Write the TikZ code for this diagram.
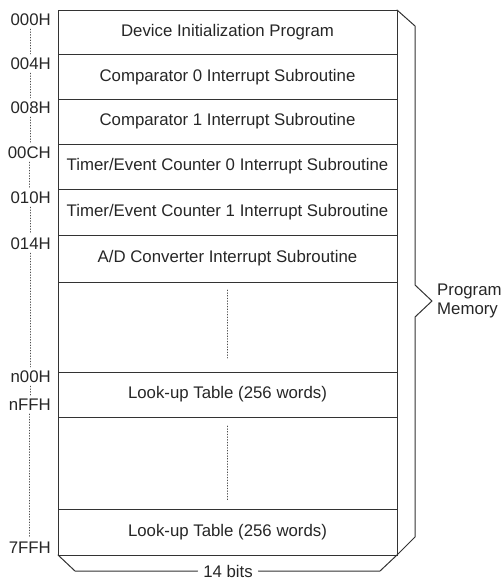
\documentclass[tikz,border=0pt]{standalone}
\usepackage{fontspec}
\setmainfont{Liberation Sans}
\usetikzlibrary{positioning}

\begin{document}
\begin{tikzpicture}[x=1pt,y=-1pt,font=\fontsize{16.8}{19}\selectfont,line cap=round,
  mem/.style={draw=black!80,line width=1pt,minimum width=339pt,outer sep=0pt,inner sep=0pt,text=black!85},
  addr/.style={anchor=east,inner sep=0pt,text=black!85},
  addrdots/.style={black!70,line width=0.7pt,dotted,shorten <=3pt,shorten >=4pt},
  middots/.style={black!70,line width=0.7pt,dotted},
  brace/.style={black!80,line width=1pt,line join=miter}]
\useasboundingbox (0,0) rectangle (501,581);
% program memory rows
\node[mem,minimum height=44.5pt,anchor=north west] (init) at (58,10) {Device Initialization Program};
\node[mem,minimum height=44.5pt,below=0pt of init] (cmp0) {Comparator 0 Interrupt Subroutine};
\node[mem,minimum height=45pt,below=0pt of cmp0] (cmp1) {Comparator 1 Interrupt Subroutine};
\node[mem,minimum height=45pt,below=0pt of cmp1] (tmr0) {Timer/Event Counter 0 Interrupt Subroutine};
\node[mem,minimum height=46pt,below=0pt of tmr0] (tmr1) {Timer/Event Counter 1 Interrupt Subroutine};
\node[mem,minimum height=47pt,below=0pt of tmr1] (adc) {A/D Converter Interrupt Subroutine};
\node[mem,minimum height=90pt,below=0pt of adc] (gap1) {};
\node[mem,minimum height=45pt,below=0pt of gap1] (lut1) {Look-up Table (256 words)};
\node[mem,minimum height=92pt,below=0pt of lut1] (gap2) {};
\node[mem,minimum height=46pt,below=0pt of gap2] (lut2) {Look-up Table (256 words)};
\draw[middots,shorten <=8pt,shorten >=14pt] (gap1.north) -- (gap1.south);
\draw[middots,shorten <=9pt,shorten >=8pt] (gap2.north) -- (gap2.south);
% addresses
\node[addr] (a000) at (51,20) {000H};
\node[addr] (a004) at (51,64) {004H};
\node[addr] (a008) at (51,108) {008H};
\node[addr] (a00C) at (51,153) {00CH};
\node[addr] (a010) at (51,198) {010H};
\node[addr] (a014) at (51,244) {014H};
\node[addr] (an00) at (51,377) {n00H};
\node[addr] (anFF) at (51,405) {nFFH};
\node[addr] (a7FF) at (51,548) {7FFH};
\foreach \u/\l in {a000/a004,a004/a008,a008/a00C,a00C/a010,a010/a014,a014/an00,an00/anFF,anFF/a7FF}
  \draw[addrdots] (\u.south) -- (\u.south |- \l.north);
% right brace
\coordinate (tip) at (432,301);
\draw[brace] (init.north east) -- ++(18,16) -- ([xshift=-17pt,yshift=16pt]tip) -- (tip)
  -- ([xshift=-17pt,yshift=-16pt]tip) -- ([xshift=18pt,yshift=18pt]lut2.south east) -- (lut2.south east);
\node[anchor=west,align=left,inner sep=0pt,text=black!85] (pm) at ([xshift=5pt]tip) {Program\\Memory};
% bottom brace
\node[inner xsep=5.5pt,inner ysep=0pt,text=black!85] (bits) at (228,571) {14 bits};
\draw[brace] (lut2.south west) -- ++(17,16) -- (bits.west);
\draw[brace] (bits.east) -- ([xshift=-17pt,yshift=-16pt]lut2.south east) -- (lut2.south east);
\end{tikzpicture}
\end{document}
